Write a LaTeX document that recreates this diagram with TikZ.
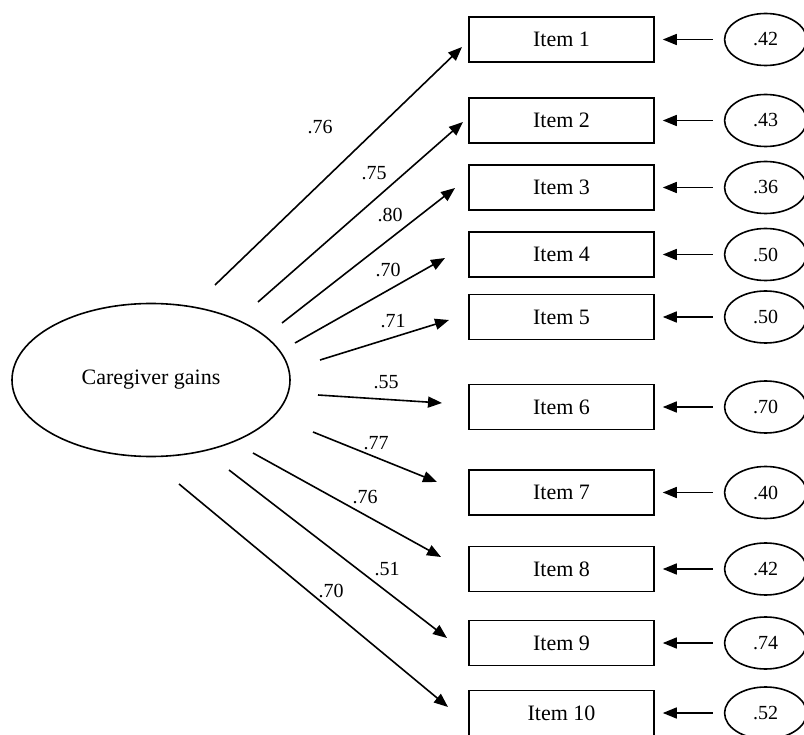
\documentclass[tikz,border=0pt]{standalone}
\usepackage{fontspec}
\setmainfont{Liberation Serif}
\usetikzlibrary{positioning,shapes.geometric,arrows.meta}

\begin{document}
\begin{tikzpicture}[x=1pt, y=1pt,
  latent/.style={draw, ellipse, line width=1.6pt, minimum width=278pt, minimum height=153pt, font=\fontsize{22}{26}\selectfont},
  item/.style={draw, rectangle, line width=1.6pt, minimum width=185pt, minimum height=45pt, font=\fontsize{22}{26}\selectfont},
  err/.style={draw, ellipse, line width=1.6pt, minimum width=82pt, minimum height=52pt, inner sep=0pt, font=\fontsize{20}{24}\selectfont},
  wt/.style={font=\fontsize{20}{24}\selectfont, inner sep=0pt},
  load/.style={line width=1.6pt, -{Triangle[length=14pt,width=11pt]}},
  node distance=70pt]
  \useasboundingbox (0,0) rectangle (804,-735);

  \node[latent] (gains) at (151,-380) {\raisebox{5pt}{Caregiver gains}};

  \node[item] (i1) at (561.5,-39.5) {Item 1};
  \node[item] (i2) [below of=i1,yshift=-11pt] {Item 2};
  \node[item] (i3) [below of=i2,yshift=3pt] {Item 3};
  \node[item] (i4) [below of=i3,yshift=3pt] {Item 4};
  \node[item] (i5) [below of=i4,yshift=7.5pt] {Item 5};
  \node[item] (i6) [below of=i5,yshift=-20pt] {Item 6};
  \node[item] (i7) [below of=i6,yshift=-15.5pt] {Item 7};
  \node[item] (i8) [below of=i7,yshift=-6.5pt] {Item 8};
  \node[item] (i9) [below of=i8,yshift=-4pt] {Item 9};
  \node[item] (i10) [below of=i9] {Item 10};

  \node[err] (e1) [right=69pt of i1] {.42};
  \node[err] (e2) [right=69pt of i2] {.43};
  \node[err] (e3) [right=69pt of i3] {.36};
  \node[err] (e4) [right=69pt of i4] {.50};
  \node[err] (e5) [right=69pt of i5] {.50};
  \node[err] (e6) [right=69pt of i6] {.70};
  \node[err] (e7) [right=69pt of i7] {.40};
  \node[err] (e8) [right=69pt of i8] {.42};
  \node[err] (e9) [right=69pt of i9] {.74};
  \node[err] (e10) [right=69pt of i10] {.52};

  % loadings: free ends of the arrows
  \coordinate (s1) at (215,-285);  \coordinate (t1) at (462,-47);
  \coordinate (s2) at (258,-302);  \coordinate (t2) at (463,-122);
  \coordinate (s3) at (282,-323);  \coordinate (t3) at (455,-188);
  \coordinate (s4) at (295,-343);  \coordinate (t4) at (445,-258);
  \coordinate (s5) at (320,-360);  \coordinate (t5) at (449,-320);
  \coordinate (s6) at (318,-395);  \coordinate (t6) at (442,-403);
  \coordinate (s7) at (313,-432);  \coordinate (t7) at (437,-482);
  \coordinate (s8) at (253,-453);  \coordinate (t8) at (441,-557);
  \coordinate (s9) at (229,-470);  \coordinate (t9) at (447,-638);
  \coordinate (s10) at (179,-484); \coordinate (t10) at (448,-707);

  \path (s1) edge[load] (t1)
        (s2) edge[load] (t2)
        (s3) edge[load] (t3)
        (s4) edge[load] (t4)
        (s5) edge[load] (t5)
        (s6) edge[load] (t6)
        (s7) edge[load] (t7)
        (s8) edge[load] (t8)
        (s9) edge[load] (t9)
        (s10) edge[load] (t10);

  \node[wt] (w1) at (320,-127) {.76};
  \node[wt] (w2) at (374,-173) {.75};
  \node[wt] (w3) at (390,-215) {.80};
  \node[wt] (w4) at (388,-270) {.70};
  \node[wt] (w5) at (393,-321) {.71};
  \node[wt] (w6) at (386,-382) {.55};
  \node[wt] (w7) at (376,-443) {.77};
  \node[wt] (w8) at (365,-497) {.76};
  \node[wt] (w9) at (387,-569) {.51};
  \node[wt] (w10) at (331,-591) {.70};

  % residuals
  \path (e1) edge[load,shorten <=11pt,shorten >=8pt] (i1)
        (e2) edge[load,shorten <=11pt,shorten >=8pt] (i2)
        (e3) edge[load,shorten <=11pt,shorten >=8pt] (i3)
        (e4) edge[load,shorten <=11pt,shorten >=8pt] (i4)
        (e5) edge[load,shorten <=11pt,shorten >=8pt] (i5)
        (e6) edge[load,shorten <=11pt,shorten >=8pt] (i6)
        (e7) edge[load,shorten <=11pt,shorten >=8pt] (i7)
        (e8) edge[load,shorten <=11pt,shorten >=8pt] (i8)
        (e9) edge[load,shorten <=11pt,shorten >=8pt] (i9)
        (e10) edge[load,shorten <=11pt,shorten >=8pt] (i10);
\end{tikzpicture}
\end{document}
